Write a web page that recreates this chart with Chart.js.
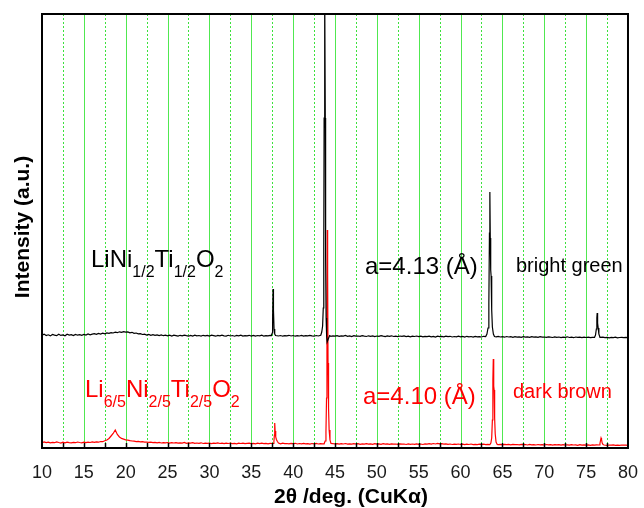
<!DOCTYPE html>
<html>
<head>
<meta charset="utf-8">
<title>XRD patterns</title>
<script src="https://cdn.jsdelivr.net/npm/chart.js@4.4.1/dist/chart.umd.min.js"></script>
<style>
  html, body { margin: 0; padding: 0; background: #fff; }
  #xrd { display: block; }
</style>
</head>
<body>
<canvas id="xrd" width="644" height="508"></canvas>
<script>
(function () {
    "use strict";

    var FONT = "'Liberation Sans', Arial, sans-serif";

    // 2-theta axis
    var tickLabels = [10, 15, 20, 25, 30, 35, 40, 45, 50, 55, 60, 65, 70, 75, 80];
    var majorGrid = [15, 20, 25, 30, 35, 40, 45, 50, 55, 60, 65, 70, 75];
    var minorGrid = [12.5, 17.5, 22.5, 27.5, 32.5, 37.5, 42.5, 47.5, 52.5, 57.5, 62.5, 67.5, 72.5, 77.5];

    // scan: 10 -> 80 deg, 0.25 deg step (background)
    var scanStart = 10;
    var scanStep = 0.25;

    // LiNi1/2Ti1/2O2 (black, shifted up)
    var blackScan = [
        112.8,113.9,112.4,113.2,112.1,113.6,112.9,112.3,113.8,112.6,113.1,112.2,113.7,112.9,113.3,112.4,113.6,112.8,113.4,112.7,
        113.5,112.9,114.0,113.2,113.8,114.3,113.6,114.5,114.0,114.8,114.2,115.1,114.6,115.4,115.0,115.9,115.3,116.2,115.6,116.4,
        115.8,116.1,115.2,115.7,114.6,115.0,114.1,114.4,113.5,113.9,113.0,113.6,112.7,113.3,112.6,113.1,112.4,113.0,112.3,112.9,
        112.2,112.9,112.0,112.8,112.4,111.9,112.7,112.1,112.9,112.3,111.8,112.6,112.0,112.8,112.2,112.5,111.9,112.7,112.1,112.6,
        112.0,112.8,112.3,111.8,112.6,112.1,112.9,112.2,111.9,112.7,112.0,112.5,111.8,112.6,112.2,112.8,111.9,112.4,112.1,112.7,
        112.0,112.6,111.9,112.5,112.2,112.8,111.8,112.4,112.1,112.7,112.3,111.9,112.6,112.0,112.5,111.8,112.4,112.2,112.7,112.0,
        112.5,111.8,112.3,112.0,112.6,111.9,112.4,112.1,112.7,112.2,111.8,112.5,112.0,112.6,111.9,112.3,112.0,112.5,111.7,112.2,
        111.8,112.4,111.6,112.2,111.9,112.5,111.7,112.1,111.5,112.3,111.8,112.0,111.6,112.4,111.9,111.5,112.2,111.7,112.1,111.4,
        112.0,111.6,112.3,111.8,111.4,112.1,111.7,112.2,111.5,111.9,111.3,112.0,111.6,112.1,111.4,111.8,111.2,111.9,111.5,112.0,
        111.4,111.8,111.1,111.7,111.3,111.9,111.2,111.6,111.0,111.8,111.3,111.6,111.1,111.9,111.4,111.7,111.0,111.5,111.2,111.8,
        111.1,111.6,111.0,111.7,111.2,111.5,110.9,111.6,111.1,111.4,111.0,111.7,111.2,111.5,111.0,111.6,111.3,111.1,111.6,111.0,
        111.4,110.8,111.5,111.0,111.3,110.7,111.4,110.9,111.2,110.6,111.3,110.9,111.1,110.7,111.4,110.8,111.2,110.6,111.3,110.9,
        111.0,110.6,111.2,110.8,110.5,111.1,110.7,111.0,110.4,110.9,110.6,111.2,110.5,110.8,110.3,111.0,110.6,110.9,110.4,110.8,
        110.5,110.9,110.3,110.7,110.4,110.8,110.2,110.6,110.9,110.3,110.7,110.2,110.6,110.4,110.8,110.2,110.5,110.7,110.3,110.6,
        110.4
    ];
    var blackPeakAngle = [
        37.4, 37.5, 37.55, 37.6, 37.65, 37.72, 37.8, 37.9,
        43.3, 43.42, 43.52, 43.6, 43.66, 43.7, 43.74, 43.8, 43.84, 43.88, 43.94, 44.0, 44.06, 44.14, 44.24, 44.36,
        63.0, 63.15, 63.28, 63.38, 63.45, 63.5, 63.55, 63.6, 63.65, 63.72, 63.8, 63.92, 64.05,
        76.0, 76.12, 76.22, 76.28, 76.32, 76.37, 76.44, 76.52, 76.65
    ];
    var blackPeakCounts = [
        112.5, 115, 130, 159, 138, 119, 114, 112.5,
        112.8, 116, 122, 140, 200, 330, 460, 460, 330, 190, 130, 112, 106, 106, 110, 112.4,
        111.5, 114, 120, 145, 215, 256, 210, 178, 172, 138, 121, 114, 111.5,
        110.6, 113, 119, 130, 135, 125, 120, 114, 110.7
    ];

    // Li6/5Ni2/5Ti2/5O2 (red)
    var redScan = [
        5.2,6.0,5.4,5.9,5.1,5.7,5.3,6.1,5.5,5.0,5.8,5.2,5.9,5.4,5.1,5.7,5.3,6.0,5.5,5.2,
        5.8,5.3,5.9,5.5,6.1,5.6,6.2,5.8,6.5,6.3,7.2,8.0,9.5,12.0,14.5,18.0,13.5,11.0,9.6,8.9,
        8.2,7.9,7.3,7.0,6.8,6.4,6.6,6.1,6.3,5.8,6.0,5.6,5.9,5.3,5.7,5.2,5.6,5.0,5.4,5.1,
        5.5,4.9,5.3,5.0,5.4,4.8,5.2,4.9,5.5,4.7,5.1,4.8,5.3,4.6,5.0,4.7,5.2,4.5,4.9,4.6,
        5.0,4.4,4.9,4.6,5.1,4.5,4.8,4.3,4.9,4.5,5.0,4.4,4.7,4.2,4.8,4.5,4.9,4.3,4.6,4.8,
        4.3,4.7,4.2,4.8,4.4,4.9,4.3,4.6,4.1,4.7,4.4,4.9,4.3,4.6,4.2,4.8,4.4,4.5,4.1,4.6,
        4.3,4.7,4.0,4.5,4.2,4.6,4.1,4.4,3.9,4.5,4.2,4.6,4.0,4.4,4.1,4.3,3.9,4.5,4.1,4.3,
        4.0,4.4,3.8,4.3,4.0,4.5,3.9,4.2,3.8,4.4,4.0,4.3,3.7,4.2,3.9,4.4,3.8,4.1,3.7,4.3,
        3.9,4.2,3.7,4.3,3.8,4.1,3.6,4.2,3.9,4.0,3.6,4.2,3.8,4.0,3.5,4.1,3.7,4.0,3.6,4.2,
        3.7,4.0,3.5,4.1,3.8,4.3,3.9,4.5,4.0,4.6,4.1,4.4,3.8,4.2,3.6,4.0,3.5,3.9,3.6,4.0,
        3.5,3.9,3.4,3.8,3.5,4.0,3.4,3.7,3.3,3.9,3.5,3.8,3.4,3.7,3.3,3.8,3.5,3.7,3.4,3.6,
        3.2,3.7,3.3,3.6,3.1,3.7,3.4,3.5,3.1,3.6,3.3,3.5,3.0,3.6,3.2,3.4,3.0,3.5,3.2,3.4,
        3.0,3.5,3.1,3.3,2.9,3.4,3.1,3.3,2.8,3.4,3.0,3.2,2.8,3.3,3.0,3.2,2.7,3.3,2.9,3.1,
        2.8,3.2,2.7,3.1,2.9,3.2,2.7,3.0,2.8,3.1,2.6,3.0,2.8,3.1,2.7,2.9,2.6,3.0,2.8,2.9,
        2.7
    ];
    var redPeakAngle = [
        37.6, 37.7, 37.76, 37.8, 37.85, 37.92, 38.0, 38.12, 38.25,
        43.7, 43.82, 43.92, 43.99, 44.04, 44.08, 44.12, 44.17, 44.23, 44.3, 44.4, 44.52,
        63.5, 63.62, 63.72, 63.8, 63.86, 63.91, 63.96, 64.01, 64.07, 64.14, 64.24, 64.38,
        76.55, 76.65, 76.73, 76.78, 76.84, 76.92, 77.02, 77.15
    ];
    var redPeakCounts = [
        4.5, 6, 13, 25, 17, 11, 8.5, 6.5, 5,
        4.2, 7, 16, 50, 140, 218, 175, 85, 40, 18, 8, 4.5,
        3.5, 5, 10, 28, 68, 89, 62, 58, 30, 14, 6, 3.6,
        3.0, 4.5, 8, 10, 8.5, 5, 3.5, 3
    ];


    // background scan + peak points, background dropped where a peak is drawn
    function buildPattern(scan, peakAngle, peakCounts) {
        var pts = [];
        scan.forEach(function (v, i) {
            var a = scanStart + i * scanStep;
            var nearPeak = peakAngle.some(function (p) { return Math.abs(p - a) < 0.12; });
            if (!nearPeak) pts.push({ x: a, y: v });
        });
        peakAngle.forEach(function (a, i) {
            pts.push({ x: a, y: peakCounts[i] });
        });
        pts.sort(function (p, q) { return p.x - q.x; });
        return pts;
    }


    // Text on the plot
    function drawFormula(ctx, parts, x, y, color) {
        ctx.fillStyle = color;
        ctx.textAlign = 'left';
        ctx.textBaseline = 'alphabetic';
        parts.forEach(function (p) {
            var sub = p[1];
            ctx.font = (sub ? 16 : 24) + 'px ' + FONT;
            ctx.fillText(p[0], x, sub ? y + 10 : y);
            x += ctx.measureText(p[0]).width;
        });
    }

    function drawText(ctx, text, x, y, size, color) {
        ctx.fillStyle = color;
        ctx.textAlign = 'left';
        ctx.textBaseline = 'alphabetic';
        ctx.font = size + 'px ' + FONT;
        ctx.fillText(text, x, y);
    }

    var decor = {
        id: 'xrdDecor',
        beforeDatasetsDraw: function (chart) {
            var ctx = chart.ctx, area = chart.chartArea, xs = chart.scales.x;
            ctx.save();
            ctx.lineWidth = 1;
            ctx.strokeStyle = 'rgb(80,232,80)';
            majorGrid.forEach(function (a) {
                var px = Math.round(xs.getPixelForValue(a)) + 0.5;
                ctx.beginPath();
                ctx.moveTo(px, area.top);
                ctx.lineTo(px, area.bottom);
                ctx.stroke();
            });
            ctx.setLineDash([2, 2]);
            ctx.strokeStyle = 'rgb(60,225,60)';
            minorGrid.forEach(function (a) {
                var px = Math.round(xs.getPixelForValue(a)) + 0.5;
                ctx.beginPath();
                ctx.moveTo(px, area.top);
                ctx.lineTo(px, area.bottom);
                ctx.stroke();
            });
            ctx.restore();
        },
        afterDatasetsDraw: function (chart) {
            var ctx = chart.ctx, area = chart.chartArea, xs = chart.scales.x;
            ctx.save();

            // frame
            ctx.strokeStyle = '#000';
            ctx.lineWidth = 2;
            ctx.strokeRect(area.left, area.top, area.right - area.left, area.bottom - area.top);

            // inner tick marks every 2.5 deg
            ctx.lineWidth = 1.5;
            majorGrid.concat(minorGrid).forEach(function (a) {
                var px = Math.round(xs.getPixelForValue(a)) + 0.5;
                ctx.beginPath();
                ctx.moveTo(px, area.bottom);
                ctx.lineTo(px, area.bottom - 5);
                ctx.stroke();
            });

            // labels
            drawFormula(ctx, [['LiNi', 0], ['1/2', 1], ['Ti', 0], ['1/2', 1], ['O', 0], ['2', 1]], 91, 267, '#000');
            drawText(ctx, 'a=4.13 (\u00c5)', 365, 274, 24, '#000');
            drawText(ctx, 'bright green', 516, 272, 20, '#000');
            drawFormula(ctx, [['Li', 0], ['6/5', 1], ['Ni', 0], ['2/5', 1], ['Ti', 0], ['2/5', 1], ['O', 0], ['2', 1]], 85, 397, '#ff0000');
            drawText(ctx, 'a=4.10 (\u00c5)', 363, 404, 24, '#ff0000');
            drawText(ctx, 'dark brown', 513, 398, 20, '#ff0000');

            // axis titles
            ctx.fillStyle = '#000';
            ctx.font = 'bold 21px ' + FONT;
            ctx.textAlign = 'center';
            ctx.textBaseline = 'alphabetic';
            ctx.fillText('2\u03b8 /deg. (CuK\u03b1)', 351, 503);

            ctx.translate(29, 227);
            ctx.rotate(-Math.PI / 2);
            ctx.font = 'bold 21px ' + FONT;
            ctx.fillText('Intensity (a.u.)', 0, 0);
            ctx.restore();
        }
    };


    var ctx = document.getElementById('xrd').getContext('2d');
    var xrdChart = new Chart(ctx, {
        type: 'line',
        data: {
            datasets: [
                {
                    label: 'LiNi1/2Ti1/2O2',
                    data: buildPattern(blackScan, blackPeakAngle, blackPeakCounts),
                    borderColor: '#000',
                    borderWidth: 1.2,
                    pointRadius: 0,
                    tension: 0,
                    fill: false
                },
                {
                    label: 'Li6/5Ni2/5Ti2/5O2',
                    data: buildPattern(redScan, redPeakAngle, redPeakCounts),
                    borderColor: '#ff0000',
                    borderWidth: 1.2,
                    pointRadius: 0,
                    tension: 0,
                    fill: false
                }
            ]
        },
        options: {
            responsive: false,
            animation: false,
            devicePixelRatio: 1,
            layout: { padding: { top: 14, right: 12, left: 0, bottom: 0 } },
            plugins: {
                legend: { display: false },
                tooltip: { enabled: false }
            },
            scales: {
                x: {
                    type: 'linear',
                    min: 10,
                    max: 80,
                    afterFit: function (scale) { scale.height = 60; },
                    afterBuildTicks: function (scale) {
                        scale.ticks = tickLabels.map(function (v) { return { value: v }; });
                    },
                    ticks: {
                        autoSkip: false,
                        maxRotation: 0,
                        padding: 6,
                        color: '#1a1a1a',
                        font: { family: FONT, size: 18 }
                    },
                    grid: { display: false },
                    border: { display: false }
                },
                y: {
                    min: 0,
                    max: 434,
                    afterFit: function (scale) { scale.width = 42; },
                    ticks: { display: false },
                    grid: { display: false },
                    border: { display: false }
                }
            }
        },
        plugins: [decor]
    });

})();
</script>
</body>
</html>
